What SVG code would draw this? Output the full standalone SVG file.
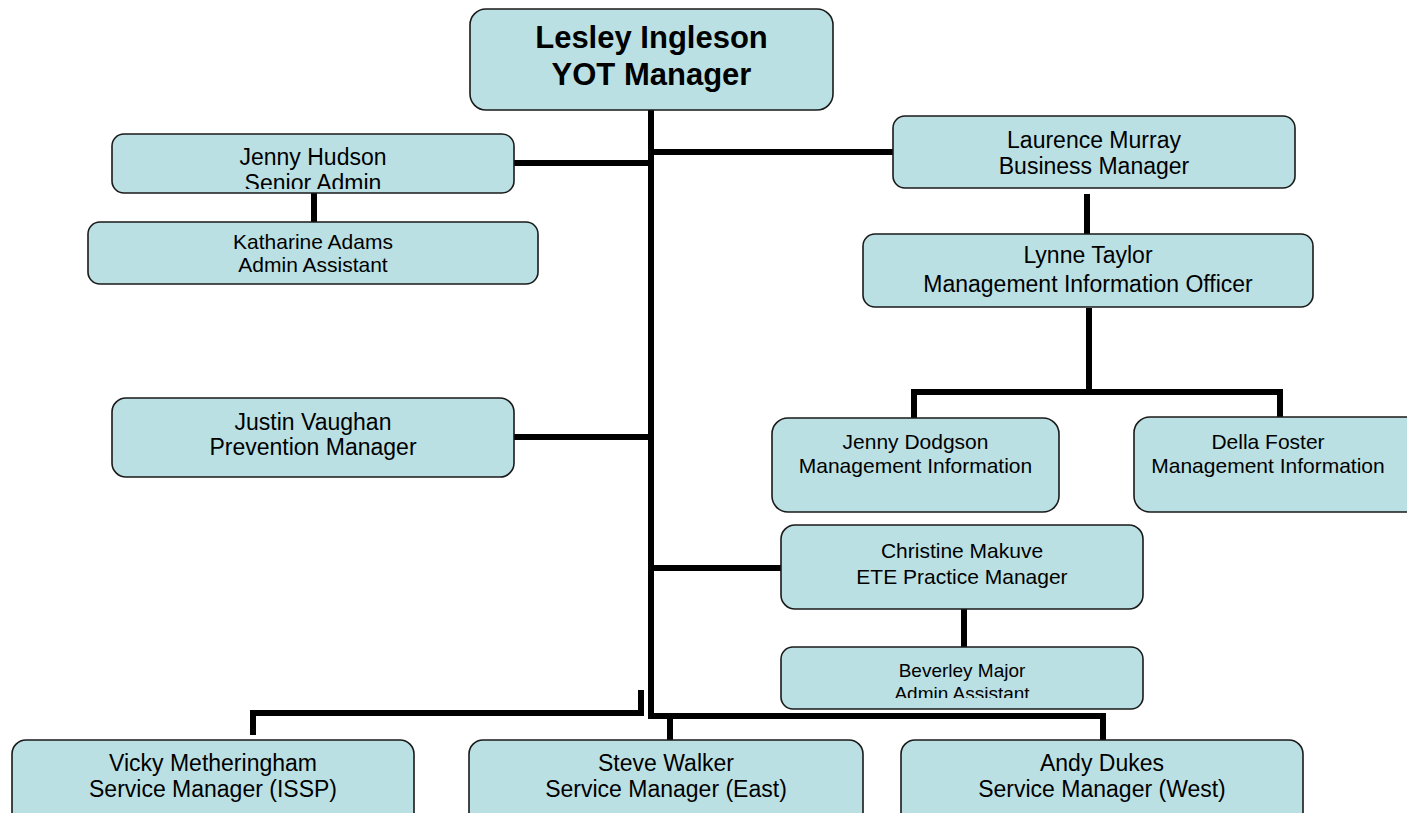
<svg xmlns="http://www.w3.org/2000/svg" width="1407" height="813" viewBox="0 0 1407 813">
<style>
.box{fill:#bbe0e3;stroke:#1a1a1a;stroke-width:1.6}
.ln{fill:none;stroke:#000;stroke-width:6}
text{font-family:"Liberation Sans",Arial,sans-serif;fill:#000;text-anchor:middle}
.b{font-weight:bold;font-size:31px}
.t23{font-size:23px}
.t21{font-size:21px}
.t19{font-size:19px}
</style>
<defs>
<clipPath id="cJH"><rect x="112" y="134" width="402" height="55"/></clipPath>
<clipPath id="cBM"><rect x="781" y="647" width="362" height="51"/></clipPath>
</defs>
<g id="connectors">
<path class="ln" d="M651 110V716H1103V740"/>
<path class="ln" d="M670 716V740"/>
<path class="ln" d="M514 163H651"/>
<path class="ln" d="M651 152H893"/>
<path class="ln" d="M314 193V222"/>
<path class="ln" d="M1087 194V234"/>
<path class="ln" d="M1089 308V392M914 418V392H1280V418"/>
<path class="ln" d="M514 437H651"/>
<path class="ln" d="M651 568H781"/>
<path class="ln" d="M964 609V647"/>
<path class="ln" d="M641 690V713H253V735"/>
</g>
<g id="lesley">
<rect class="box" x="470" y="9" width="363" height="101" rx="16"/>
<text class="b" x="651.5" y="48">Lesley Ingleson</text>
<text class="b" x="651.5" y="85">YOT Manager</text>
</g>
<g id="jenny-hudson">
<rect class="box" x="112" y="134" width="402" height="59" rx="12"/>
<g clip-path="url(#cJH)">
<text class="t23" x="313" y="165">Jenny Hudson</text>
<text class="t23" x="313" y="191">Senior Admin</text>
</g>
</g>
<g id="katharine-adams">
<rect class="box" x="88" y="222" width="450" height="62" rx="12"/>
<text class="t21" x="313" y="249">Katharine Adams</text>
<text class="t21" x="313" y="272">Admin Assistant</text>
</g>
<g id="laurence-murray">
<rect class="box" x="893" y="116" width="402" height="72" rx="12"/>
<text class="t23" x="1094" y="148">Laurence Murray</text>
<text class="t23" x="1094" y="174">Business Manager</text>
</g>
<g id="lynne-taylor">
<rect class="box" x="863" y="234" width="450" height="73" rx="12"/>
<text class="t23" x="1088" y="263">Lynne Taylor</text>
<text class="t23" x="1088" y="292">Management Information Officer</text>
</g>
<g id="justin-vaughan">
<rect class="box" x="112" y="398" width="402" height="79" rx="14"/>
<text class="t23" x="313" y="430">Justin Vaughan</text>
<text class="t23" x="313" y="455">Prevention Manager</text>
</g>
<g id="jenny-dodgson">
<rect class="box" x="772" y="418" width="287" height="94" rx="16"/>
<text class="t21" x="915.5" y="449">Jenny Dodgson</text>
<text class="t21" x="915.5" y="473">Management Information</text>
</g>
<g id="della-foster">
<rect class="box" x="1134" y="417" width="290" height="95" rx="16"/>
<text class="t21" x="1268" y="449">Della Foster</text>
<text class="t21" x="1268" y="473">Management Information</text>
</g>
<g id="christine-makuve">
<rect class="box" x="781" y="525" width="362" height="84" rx="14"/>
<text class="t21" x="962" y="558">Christine Makuve</text>
<text class="t21" x="962" y="584">ETE Practice Manager</text>
</g>
<g id="beverley-major">
<rect class="box" x="781" y="647" width="362" height="62" rx="12"/>
<g clip-path="url(#cBM)">
<text class="t19" x="962" y="677">Beverley Major</text>
<text class="t19" x="962" y="700">Admin Assistant</text>
</g>
</g>
<g id="vicky-metheringham">
<rect class="box" x="12" y="740" width="402" height="90" rx="14"/>
<text class="t23" x="213" y="771">Vicky Metheringham</text>
<text class="t23" x="213" y="797">Service Manager (ISSP)</text>
</g>
<g id="steve-walker">
<rect class="box" x="469" y="740" width="394" height="90" rx="14"/>
<text class="t23" x="666" y="771">Steve Walker</text>
<text class="t23" x="666" y="797">Service Manager (East)</text>
</g>
<g id="andy-dukes">
<rect class="box" x="901" y="740" width="402" height="90" rx="14"/>
<text class="t23" x="1102" y="771">Andy Dukes</text>
<text class="t23" x="1102" y="797">Service Manager (West)</text>
</g>
</svg>
